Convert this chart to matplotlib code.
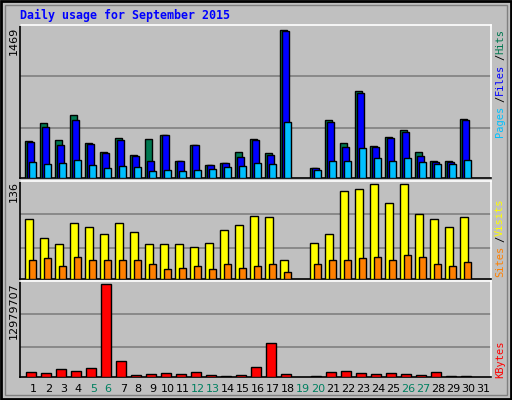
import matplotlib
matplotlib.use("Agg")
import matplotlib.pyplot as plt
from matplotlib.patches import Rectangle

days = list(range(1, 32))
hits = [362, 542, 372, 621, 342, 253, 392, 223, 382, 422, 173, 322, 133, 153, 253, 382,
        243, 1469, 0, 103, 572, 342, 861, 312, 402, 472, 253, 173, 173, 582, 0]
files = [352, 502, 322, 572, 332, 243, 372, 213, 173, 422, 173, 322, 133, 153, 203, 372,
         223, 1459, 0, 103, 552, 302, 841, 302, 392, 452, 213, 163, 163, 572, 0]
pages = [163, 143, 153, 183, 133, 103, 123, 113, 73, 83, 73, 83, 93, 113, 123, 153,
         143, 552, 0, 83, 173, 173, 292, 193, 173, 193, 163, 143, 143, 183, 0]
visits = [87, 59, 50, 81, 75, 65, 81, 68, 50, 50, 50, 46, 52, 71, 78, 90,
          89, 28, 0, 52, 65, 126, 130, 136, 109, 136, 93, 87, 75, 89, 0]
sites = [28, 30, 19, 31, 27, 27, 28, 28, 22, 15, 16, 18, 15, 22, 16, 19,
         21, 10, 0, 21, 28, 28, 30, 31, 27, 34, 31, 22, 19, 24, 0]
kbytes = [758e3, 616e3, 1184e3, 900e3, 1326e3, 12979707, 2179e3, 332e3, 474e3, 616e3,
          474e3, 758e3, 332e3, 190e3, 332e3, 1468e3, 4737e3, 474e3, 0, 190e3, 758e3,
          900e3, 616e3, 474e3, 616e3, 474e3, 332e3, 758e3, 190e3, 190e3, 0]
weekend = [5, 6, 12, 13, 19, 20, 26, 27]

BG = "#C0C0C0"
W, H = 512, 400
fig = plt.figure(figsize=(5.12, 4.0), dpi=100, facecolor=BG)


def px_axes(x0, y0, x1, y1):
    ax = fig.add_axes([x0 / W, 1 - y1 / H, (x1 - x0) / W, (y1 - y0) / H])
    ax.set_facecolor(BG)
    for s in ("top", "right"):
        ax.spines[s].set_color("white")
    for s in ("left", "bottom"):
        ax.spines[s].set_color("black")
    for s in ax.spines.values():
        s.set_linewidth(1.2)
    ax.set_xticks([])
    ax.set_yticks([])
    ax.set_xlim(0, 31.4)
    return ax


def bars(ax, vals, off, width, color):
    for d, v in zip(days, vals):
        if v <= 0:
            continue
        ax.bar(d - 1 + 0.353 + off, v, width=width, align="edge", color=color,
               edgecolor="black", linewidth=1.0, zorder=3)


def grid(ax, top, fracs):
    ax.set_ylim(0, top)
    for f in fracs:
        ax.axhline(f * top, color="#808080", lw=1.2, zorder=1)


s = 1 / 15
ax1 = px_axes(20, 25, 491, 178)
grid(ax1, 1469 * 152 / 147.5, [0.328, 0.665])
bars(ax1, hits, 0, 7 * s, "#007850")
bars(ax1, files, 2 * s, 7 * s, "#0000FF")
bars(ax1, pages, 4 * s, 7 * s, "#00C0FF")

ax2 = px_axes(20, 181, 491, 279)
grid(ax2, 136 * 286 / 276, [0.315, 0.66])
bars(ax2, visits, 0, 8 * s, "#FFFF00")
bars(ax2, sites, 4 * s, 7 * s, "#FF8000")

ax3 = px_axes(20, 281, 491, 377)
grid(ax3, 12979707 * 284 / 274, [0.31, 0.66])
bars(ax3, kbytes, 1 * s, 10 * s, "#FF0000")

for d in days:
    ax3.text(d - 1 + 0.353 + 0.53, -0.07, str(d), transform=ax3.get_xaxis_transform(),
             ha="center", va="top", fontsize=8,
             color="#008060" if d in weekend else "black")

fig.text(20 / W, 1 - 15 / H, "Daily usage for September 2015", color="#0000FF",
         family="DejaVu Sans Mono", weight="bold", fontsize=8.4, va="center")

for txt, y in (("1469", 27), ("136", 181), ("12979707", 282)):
    fig.text(14 / W, 1 - y / H, txt, rotation=90, ha="center", va="top", fontsize=8)

mono = dict(family="DejaVu Sans Mono", fontsize=7.5, rotation=90, ha="center", va="top")
for txt, y, c in (("Hits", 29, "#007850"), ("/", 54, "black"), ("Files", 64, "#0000FF"),
                  ("/", 96, "black"), ("Pages", 106, "#00C0FF"),
                  ("Visits", 198, "#FFFF00"), ("/", 236, "black"), ("Sites", 246, "#FF8000"),
                  ("KBytes", 340, "#FF0000")):
    fig.text(500 / W, 1 - y / H, txt, color=c, **mono)

# 3D frame around the image
fig.patches.append(Rectangle((0.002, 0.003), 0.996, 0.994, transform=fig.transFigure,
                             fill=False, edgecolor="black", lw=2))
fig.patches.append(Rectangle((5 / W, 5 / H), 1 - 10 / W, 1 - 10 / H, transform=fig.transFigure,
                             fill=False, edgecolor="#808080", lw=1))

fig.savefig("out.png", dpi=100, facecolor=BG)
